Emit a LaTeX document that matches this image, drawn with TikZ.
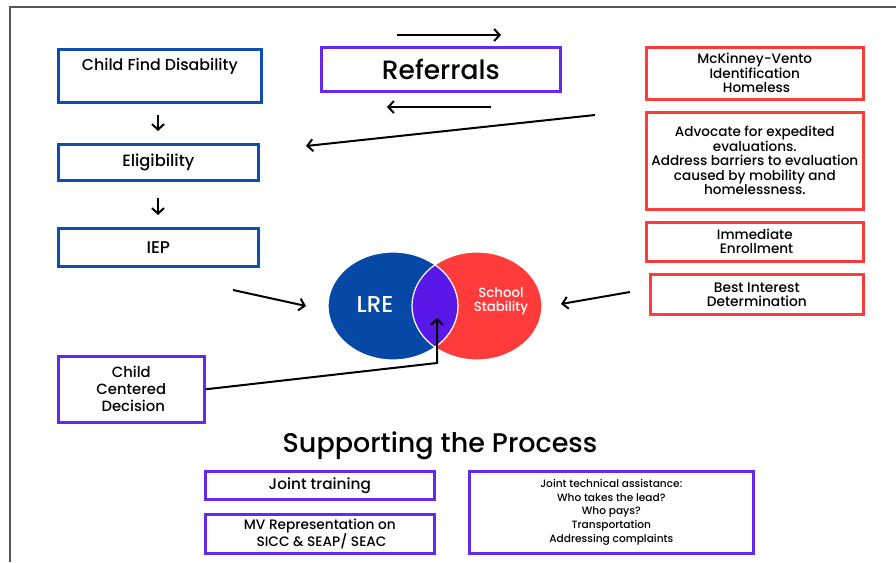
\documentclass[tikz,border=0pt]{standalone}
\usepackage{fontspec}
\setmainfont{Poppins}[UprightFont=* Medium]
\usetikzlibrary{arrows.meta}

\definecolor{boxblue}{HTML}{0D4FAE}
\definecolor{vennblue}{HTML}{0548A6}
\definecolor{boxred}{HTML}{FF3B3B}
\definecolor{boxpurple}{HTML}{6428F0}
\definecolor{vennpurple}{HTML}{5A18E8}
\definecolor{framegray}{HTML}{555555}

\newcommand{\fs}[2]{\fontsize{#1}{#2}\selectfont}

\begin{document}
\begin{tikzpicture}
  [x=1pt, y=-1pt, font=\fs{13}{15}]
  \tikzstyle{box} = [draw, line width=2.6pt, inner sep=1pt, align=center, anchor=north west];
  \tikzstyle{blue_box}   = [box, draw=boxblue];
  \tikzstyle{red_box}    = [box, draw=boxred];
  \tikzstyle{purple_box} = [box, draw=boxpurple];
  \tikzstyle{arr} = [line width=2pt, -{Straight Barb[length=5.5pt, width=12pt, line width=2pt]}];

  \useasboundingbox (0, 0) rectangle (896, 562);
  \draw[framegray, line width=2pt] (896, 7) -- (10, 7) -- (10, 562);

  % left column
  \node[blue_box, minimum width=203pt, minimum height=53pt, text depth=22pt, font=\fs{15.8}{18}] (cfd) at (57, 48) {Child Find Disability};
  \node[blue_box, minimum width=200pt, minimum height=36pt, font=\fs{16.3}{18}] (elig) at (57, 143) {Eligibility};
  \node[blue_box, minimum width=200pt, minimum height=38pt, font=\fs{17}{18}] (iep) at (57, 227) {IEP};

  \coordinate (d1a) at (158, 115);
  \coordinate (d1b) at (158, 131);
  \coordinate (d2a) at (158, 198);
  \coordinate (d2b) at (158, 215);
  \draw[arr] (d1a) -- (d1b);
  \draw[arr] (d2a) -- (d2b);

  % referrals
  \node[purple_box, minimum width=239pt, minimum height=44pt, font=\fs{26.5}{28}] (ref) at (320, 46) {Referrals};

  \coordinate (r1a) at (397, 35);
  \coordinate (r1b) at (501, 35);
  \coordinate (r2a) at (491, 107);
  \coordinate (r2b) at (387, 107);
  \coordinate (r3a) at (595, 115);
  \coordinate (r3b) at (306, 146);
  \draw[arr] (r1a) -- (r1b);
  \draw[arr] (r2a) -- (r2b);
  \draw[arr] (r3a) -- (r3b);

  % right column
  \node[red_box, minimum width=217pt, minimum height=52pt, font=\fs{13.6}{14.5}] (mv) at (645, 46)
    {McKinney-Vento\\Identification\\\ Homeless};
  \node[red_box, minimum width=217pt, minimum height=97pt, font=\fs{13.6}{14.5}] (adv) at (645, 111)
    {Advocate for expedited\\evaluations.\\Address barriers to evaluation\\caused by mobility and\\homelessness.};
  \node[red_box, minimum width=217pt, minimum height=39pt, font=\fs{13.6}{14}] (enr) at (645, 221)
    {Immediate\\\ Enrollment};
  \node[red_box, minimum width=213pt, minimum height=40pt, font=\fs{13.8}{14}] (bid) at (649, 273)
    {Best Interest\\Determination};

  % venn
  \fill[vennblue] (393, 306) ellipse [x radius=65, y radius=54];
  \fill[boxred] (477, 306) ellipse [x radius=65, y radius=54];
  \begin{scope}
    \clip (393, 306) ellipse [x radius=65, y radius=54];
    \fill[vennpurple] (477, 306) ellipse [x radius=65, y radius=54];
  \end{scope}
  \draw[white, line width=1.2pt] (393, 306) ellipse [x radius=65, y radius=54];
  \draw[white, line width=1.2pt] (477, 306) ellipse [x radius=65, y radius=54];
  \node[white, font=\fs{23}{24}] (lre) at (375, 304) {LRE};
  \node[white, align=center, font=\fs{13.3}{14}] (stab) at (501, 301) {School\\Stability};

  \coordinate (la) at (233, 290);
  \coordinate (lb) at (306, 306);
  \coordinate (ra) at (630, 292);
  \coordinate (rb) at (561, 304);
  \draw[arr] (la) -- (lb);
  \draw[arr] (ra) -- (rb);

  \node[purple_box, minimum width=146pt, minimum height=66pt, font=\fs{14.8}{17}] (ccd) at (57, 355)
    {Child\\Centered\\\ Decision};
  \coordinate (bend) at (437, 363);
  \coordinate (ovl) at (437, 318);
  \draw[arr] (ccd.east) -- (bend) -- (ovl);

  % supporting the process
  \node[font=\fs{27}{28}] (sup) at (440, 446) {Supporting the Process};
  \node[purple_box, minimum width=229pt, minimum height=28pt, font=\fs{15.3}{17}] (jt) at (204, 470) {Joint training};
  \node[purple_box, minimum width=229pt, minimum height=39pt, font=\fs{13.7}{14.5}] (mvr) at (204, 513)
    {MV Representation on\\\ SICC \& SEAP/ SEAC};
  \node[purple_box, minimum width=284pt, minimum height=82pt, font=\fs{10.6}{13.8}] (jta) at (468, 470)
    {Joint technical assistance:\\Who takes the lead?\\Who pays?\\Transportation\\Addressing complaints};
\end{tikzpicture}
\end{document}
